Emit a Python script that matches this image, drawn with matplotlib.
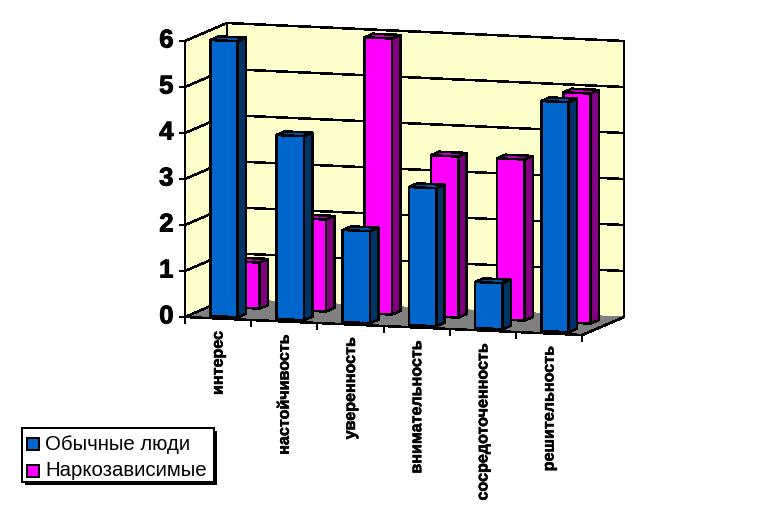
import matplotlib
matplotlib.use('Agg')
import matplotlib.pyplot as plt
import matplotlib.patheffects as pe
from matplotlib.patches import Polygon, Rectangle

plt.rcParams['font.family'] = ['Liberation Sans', 'DejaVu Sans']

# --- data ---
categories = ['интерес', 'настойчивость', 'уверенность',
              'внимательность', 'сосредоточенность', 'решительность']
series_names = ['Обычные люди', 'Наркозависимые']
normal_people = [6, 4, 2, 3, 1, 5]
addicts = [1, 2, 6, 3.5, 3.5, 5]
y_ticks = [0, 1, 2, 3, 4, 5, 6]

# --- projection of the fake 3d box, in picture pixels ---
X0, Y0 = 185.0, 317.0       # origin: value 0, first category, front
CAT_DX, CAT_DY = 66.2, 3.0  # one category along the front edge
DEPTH_DX, DEPTH_DY = 42.0, -18.0  # whole depth of the floor
UNIT = 46.0                 # one value unit

BAR_W = 0.414
BAR_D = 0.2

BLUE = ('#0066CC', '#00519F', '#003366')   # front, top, side
PINK = ('#FF00FF', '#C000C0', '#800080')
WALL = '#FFFFCC'
FLOOR = '#808080'
LW = 1.1


def project(u, t, v):
    """u - categories along the axis, t - depth 0..1, v - chart value."""
    return (X0 + CAT_DX * u + DEPTH_DX * t,
            Y0 + CAT_DY * u + DEPTH_DY * t - UNIT * v)


def poly(ax, pts, color, edge='black', z=1):
    ax.add_patch(Polygon(pts, closed=True, facecolor=color, edgecolor=edge,
                         lw=LW if edge != 'none' else 0, zorder=z,
                         antialiased=False, joinstyle='miter'))


def line(ax, p, q, lw=LW, z=2):
    ax.plot([p[0], q[0]], [p[1], q[1]], color='black', lw=lw, zorder=z,
            antialiased=False, solid_capstyle='butt')


def draw_bar(ax, u, t, val, colors, z):
    u2, t2 = u + BAR_W, t + BAR_D
    poly(ax, [project(u, t, 0), project(u2, t, 0),
              project(u2, t, val), project(u, t, val)], colors[0], z=z)
    poly(ax, [project(u2, t, 0), project(u2, t2, 0),
              project(u2, t2, val), project(u2, t, val)], colors[2], z=z)
    poly(ax, [project(u, t, val), project(u2, t, val),
              project(u2, t2, val), project(u, t2, val)], colors[1], z=z)


fig = plt.figure(figsize=(7.77, 5.15), dpi=100)
ax = fig.add_axes([0, 0, 1, 1])
ax.set_xlim(0, 777)
ax.set_ylim(515, 0)
ax.axis('off')

n = len(categories)
top = max(y_ticks)

# walls and floor
poly(ax, [project(0, 0, 0), project(0, 1, 0), project(0, 1, top), project(0, 0, top)],
     WALL, edge='none')
poly(ax, [project(0, 1, 0), project(n, 1, 0), project(n, 1, top), project(0, 1, top)],
     WALL, edge='none')
poly(ax, [project(0, 0, 0), project(n, 0, 0), project(n, 1, 0), project(0, 1, 0)],
     FLOOR, edge='none')

# gridlines
for v in y_ticks:
    line(ax, project(0, 0, v), project(0, 1, v))
    if v > 0:
        line(ax, project(0, 1, v), project(n, 1, v))
line(ax, project(0, 1, 0), project(0, 1, top))
line(ax, project(n, 1, 0), project(n, 1, top))
line(ax, project(n, 0, 0), project(n, 1, 0))
line(ax, project(0, 0, 0), project(0, 0, top))
line(ax, project(0, 0, 0), project(n, 0, 0))

# the original's bold text is heavier than the font here
heavy = [pe.withStroke(linewidth=0.7, foreground='black')]
heavy_small = [pe.withStroke(linewidth=0.4, foreground='black')]

# ticks
for v in y_ticks:
    x, y = project(0, 0, v)
    line(ax, (x - 6.5, y), (x, y))
    ax.text(x - 11.5, y - 0.5, str(v), ha='right', va='center',
            fontsize=18.5, fontweight='bold', color='black', path_effects=heavy)
for i in range(n + 1):
    x, y = project(i, 0, 0)
    line(ax, (x, y), (x, y + 6.5))

# back row first, then the front row over it
for i, val in enumerate(addicts):
    draw_bar(ax, i + 0.337, 0.595, val, PINK, 3)
for i, val in enumerate(normal_people):
    draw_bar(ax, i + 0.314, 0.108, val, BLUE, 4)

# category labels
for i, name in enumerate(categories):
    x, y = project(i + 0.5, 0, 0)
    ax.text(x, y + 12.5, name, rotation=90, ha='center', va='top',
            fontsize=11.6, fontweight='bold', color='black', path_effects=heavy_small)

# legend
ax.add_patch(Rectangle((24.7, 431.3), 192.3, 53.4, facecolor='black', lw=0, zorder=5))
ax.add_patch(Rectangle((21.7, 428.3), 192.3, 53.4, facecolor='white',
                       edgecolor='black', lw=LW, zorder=6, antialiased=False))
for k, (name, cols) in enumerate(zip(series_names, (BLUE, PINK))):
    yc = 444.2 + 26.8 * k
    ax.add_patch(Rectangle((27.3, yc - 5.8), 11.7, 11.7, facecolor=cols[0],
                           edgecolor='black', lw=LW, zorder=7, antialiased=False))
    ax.text(45, yc, name, ha='left', va='center', fontsize=14.7, color='black', zorder=7)

fig.savefig('out.png', dpi=100)
